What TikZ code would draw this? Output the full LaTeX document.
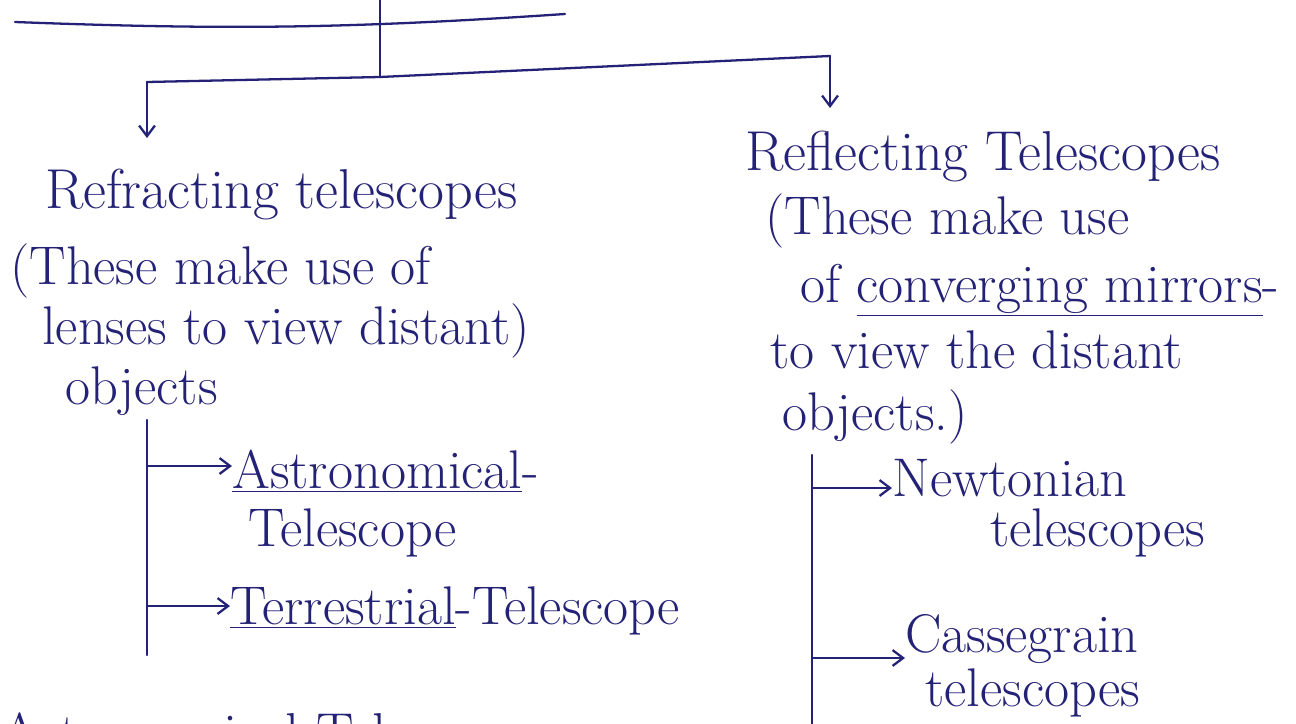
\documentclass[tikz,border=0pt]{standalone}
\definecolor{inkblue}{RGB}{36, 34, 118}
\usepackage{tikz}
\usetikzlibrary{arrows.meta, positioning}

\tikzset{
  ink/.style={draw=inkblue, line width=1.3pt, line cap=round},
  branch/.style={ink, -{Straight Barb[length=6pt, width=9pt]}},
  heading/.style={text=inkblue, font=\fontsize{32}{38}\selectfont, inner sep=0pt, anchor=base west},
  note/.style={text=inkblue, font=\fontsize{31}{36}\selectfont, inner sep=0pt, anchor=base west},
}

\begin{document}
\begin{tikzpicture}[x=0.02cm, y=-0.02cm]
  \useasboundingbox (0,0) rectangle (1296,724);
  \clip (0,0) rectangle (1296,724);
  \fill[white] (0,0) rectangle (1296,724);

  % Top split
  \coordinate (ulA) at (15,22);
  \coordinate (ulB) at (565,14);
  \coordinate (stem) at (380,0);
  \coordinate (fork) at (380,77);
  \coordinate (forkL) at (147,82);
  \coordinate (forkR) at (830,56);
  \coordinate (tipL) at (147,138);
  \coordinate (tipR) at (830,108);
  \draw[ink] (ulA) to[bend right=3] (ulB);
  \draw[ink] (stem) -- (fork);
  \draw[ink] (forkL) -- (fork) -- (forkR);
  \draw[branch] (forkL) -- (tipL);
  \draw[branch] (forkR) -- (tipR);

  % Refracting side
  \node[heading] (refr) at (45,208) {Refracting telescopes};
  \node[note] (refrA) at (10,284) {(These make use of};
  \node[note] (refrB) at (42,344) {lenses to view distant)};
  \node[note] (refrC) at (65,404) {objects};

  \node[note] (astro) at (232,488) {\underline{Astronomical}-};
  \node[note] (astroB) at (248,546) {Telescope};
  \node[note] (terr) at (230,624) {\underline{Terrestrial}-Telescope};

  \coordinate (lsTop) at (147,420);
  \coordinate (lsBot) at (147,655);
  \coordinate (ls1) at (147,466);
  \coordinate (ls2) at (147,606);
  \draw[ink] (lsTop) -- (lsBot);
  \draw[branch] (ls1) -- (ls1 -| astro.west);
  \draw[branch] (ls2) -- (ls2 -| terr.west);

  % Reflecting side
  \node[heading] (refl) at (745,170) {Reflecting Telescopes};
  \node[note] (reflA) at (765,234) {(These make use};
  \node[note] (reflB) at (800,302) {of \underline{converging mirrors}-};
  \node[note] (reflC) at (770,368) {to view the distant};
  \node[note] (reflD) at (782,430) {objects.)};

  \node[note] (newt) at (892,496) {Newtonian};
  \node[note] (newtB) at (990,546) {telescopes};
  \node[note] (cass) at (905,652) {Cassegrain};
  \node[note] (cassB) at (925,706) {telescopes};

  \coordinate (rsTop) at (812,455);
  \coordinate (rsBot) at (812,724);
  \coordinate (rs1) at (812,488);
  \coordinate (rs2) at (812,658);
  \draw[ink] (rsTop) -- (rsBot);
  \draw[branch] (rs1) -- (rs1 -| newt.west);
  \draw[branch] (rs2) -- (rs2 -| cass.west);

  % Next heading, cut off at the bottom
  \node[heading] (next) at (0,752) {Astronomical Telescope};
\end{tikzpicture}
\end{document}
